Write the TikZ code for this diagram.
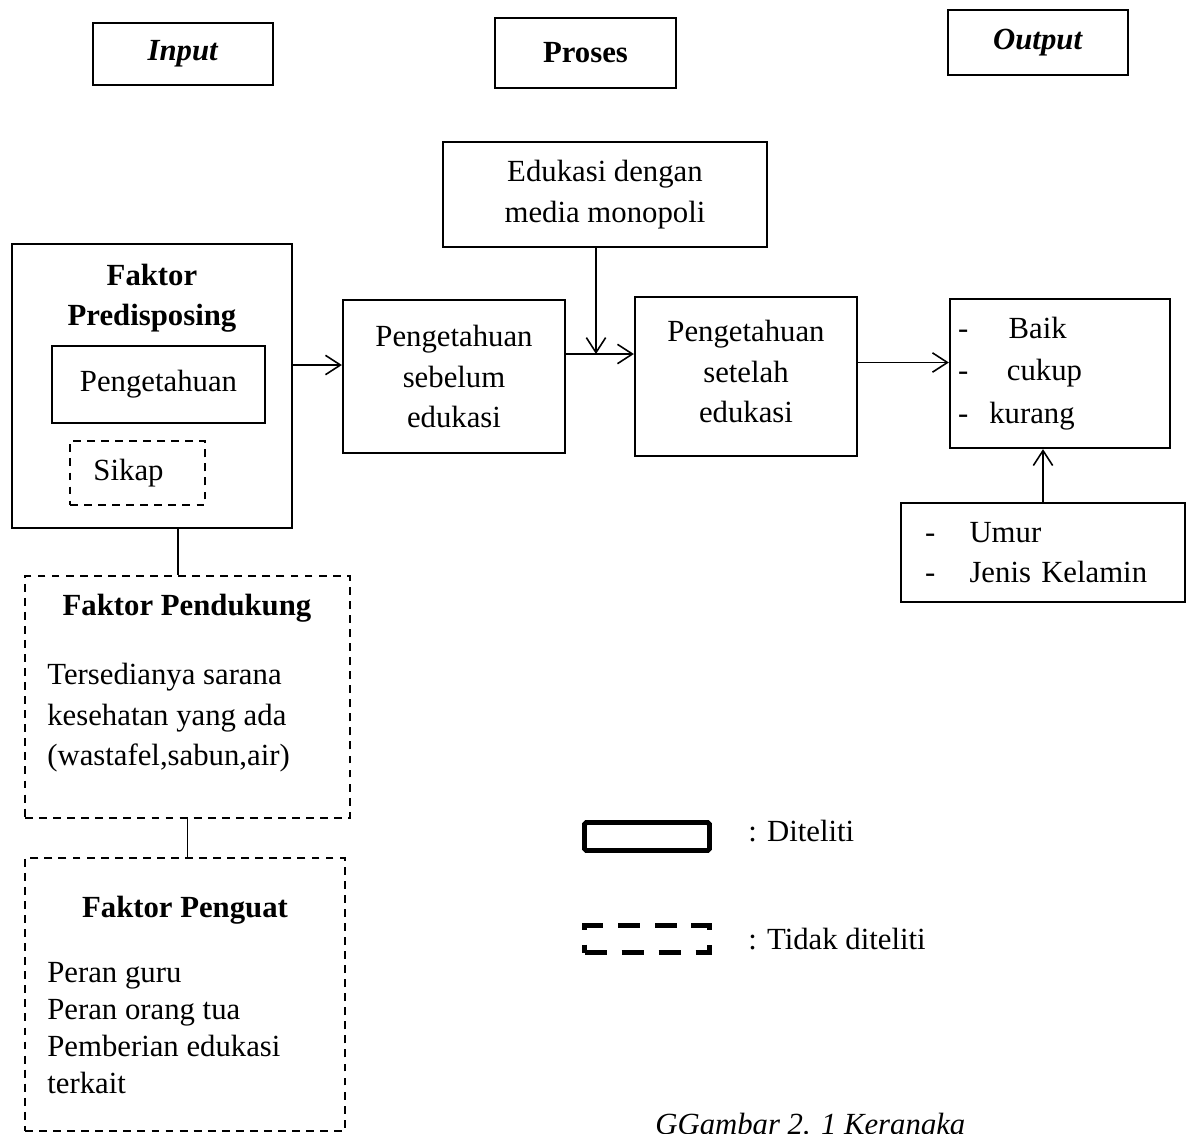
\documentclass[tikz,border=0pt]{standalone}
\usepackage{fontspec}
\setmainfont{Liberation Serif}
\usetikzlibrary{arrows.meta,positioning}
\newcommand{\boxfont}{\fontsize{17.5}{23}\selectfont}

\begin{document}
\begin{tikzpicture}[x=0.02cm,y=-0.02cm,
  box/.style={draw,line width=1.3pt,inner sep=0pt,align=center,font=\boxfont},
  dbox/.style={box,dash pattern=on 4.5pt off 3.5pt},
  hdr/.style={box,font=\boxfont\bfseries},
  txt/.style={inner sep=0pt,align=left,font=\boxfont},
  conn/.style={line width=0.9pt},
  arr/.style={conn,-{Straight Barb[length=8.5pt,width=11pt,line width=0.9pt]}}]
\useasboundingbox (0,0) rectangle (1193,1133);

\node[hdr,minimum width=3.6cm,minimum height=1.24cm] (input) at (183,54) {\textit{Input}};
\node[hdr,minimum width=3.62cm,minimum height=1.4cm] (proses) at (585.5,53) {Proses};
\node[hdr,minimum width=3.6cm,minimum height=1.3cm] (output) at (1038,42.5) {\textit{Output}};

\node[box,minimum width=6.48cm,minimum height=2.1cm] (edukasi) at (605,194.5) {Edukasi dengan\\media monopoli};

\node[box,minimum width=5.6cm,minimum height=5.68cm] (predis) at (152,386) {};
\node[txt,font=\boxfont\bfseries,align=center] (predistitle) at (152,298) {Faktor\\Predisposing};
\node[box,minimum width=4.26cm,minimum height=1.54cm] (peng) at (158.5,384.5) {Pengetahuan};
\node[dbox,minimum width=2.7cm,minimum height=1.28cm,
  label={[txt,xshift=-0.18cm]center:Sikap}] (sikap) at (137.5,473) {};

\node[box,minimum width=4.44cm,minimum height=3.06cm] (sebelum) at (454,376.5) {Pengetahuan\\sebelum\\edukasi};
\node[box,minimum width=4.44cm,minimum height=3.18cm,
  label={[txt,align=center,yshift=0.1cm]center:Pengetahuan\\setelah\\edukasi}] (setelah) at (746,376.5) {};
\node[box,minimum height=2.98cm,text width=4.08cm,inner xsep=0.16cm,align=left,
  font=\fontsize{17.5}{24}\selectfont] (hasil) at (1060,373.5)
  {-\hspace{23pt}Baik\\-\hspace{22pt}cukup\\-\hspace{12pt}kurang};
\node[box,minimum height=1.98cm,text width=4.72cm,inner xsep=0.48cm,align=left] (umur) at (1043,552.5)
  {-\hspace{19.5pt}Umur\\-\hspace{19.5pt}Jenis Kelamin};

\node[dbox,minimum width=6.5cm,minimum height=4.84cm] (pendukung) at (187.5,697) {};
\node[txt,font=\boxfont\bfseries] (pendukungtitle) at (187,608) {Faktor Pendukung};
\node[txt,anchor=west] (pendukungisi) at (47,718) {Tersedianya sarana\\kesehatan yang ada\\(wastafel,sabun,air)};

\node[dbox,minimum width=6.4cm,minimum height=5.46cm] (penguat) at (185,994.5) {};
\node[txt,font=\boxfont\bfseries] (penguattitle) at (185,910) {Faktor Penguat};
\node[txt,anchor=west,font=\fontsize{17.5}{21}\selectfont] (penguatisi) at (47,1028)
  {Peran guru\\Peran orang tua\\Pemberian edukasi\\terkait};

\node[draw,line width=2.8pt,rounded corners=1pt,minimum width=2.5cm,minimum height=0.56cm] (diteliti) at (647,836.5) {};
\node[txt,right=0.72cm of diteliti,yshift=0.1cm] (ditelitilbl) {: Diteliti};
\node[draw,line width=2.8pt,dash pattern=on 0.44cm off 0.3cm,minimum width=2.5cm,minimum height=0.54cm] (tidak) at (647,939) {};
\node[txt,right=0.72cm of tidak] (tidaklbl) {: Tidak diteliti};

\node[txt,anchor=base west,font=\boxfont\itshape] (caption) at (655,1134) {GGambar 2. 1 Kerangka};

\coordinate (temu) at (596,354);
\draw[arr] ([yshift=0.23cm]sebelum.west -| predis.east) -- ([yshift=0.23cm]sebelum.west);
\draw[conn] (sebelum.east |- temu) -- (temu);
\draw[arr] (temu) -- (setelah.west |- temu);
\draw[arr] (temu |- edukasi.south) -- (temu);
\draw[arr] ([yshift=0.22cm]hasil.west -| setelah.east) -- ([yshift=0.22cm]hasil.west);
\draw[arr] (umur.north) -- (umur.north |- hasil.south);
\draw[conn] ([xshift=-0.19cm]pendukung.north |- predis.south) -- ([xshift=-0.19cm]pendukung.north);
\draw[conn] (pendukung.south) -- (pendukung.south |- penguat.north);
\end{tikzpicture}
\end{document}
